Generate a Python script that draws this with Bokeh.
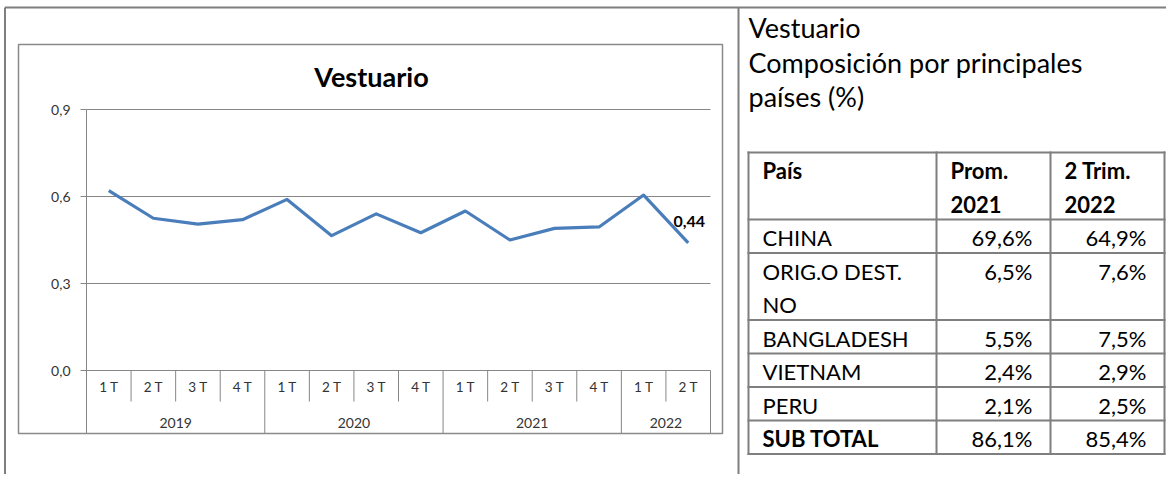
import math
from bokeh.plotting import figure
from bokeh.models import Range1d
from bokeh.core.properties import value
from bokeh.embed import file_html
from bokeh.resources import INLINE

# ---------------- data ----------------
years = ["2019", "2020", "2021", "2022"]
quarters_per_year = [4, 4, 4, 2]
quarter_labels = ["1 T", "2 T", "3 T", "4 T"]
share = [0.62, 0.525, 0.505, 0.52, 0.59, 0.465, 0.54, 0.475,
         0.55, 0.45, 0.49, 0.495, 0.605, 0.44]
y_ticks = [0.0, 0.3, 0.6, 0.9]
chart_title = "Vestuario"

block_title = ["Vestuario", "Composición por principales", "países (%)"]
headers = [["País"], ["Prom.", "2021"], ["2 Trim.", "2022"]]
countries = [["CHINA"], ["ORIG.O DEST.", "NO"], ["BANGLADESH"], ["VIETNAM"],
             ["PERU"], ["SUB TOTAL"]]
prom_2021 = [69.6, 6.5, 5.5, 2.4, 2.1, 86.1]
trim2_2022 = [64.9, 7.6, 7.5, 2.9, 2.5, 85.4]

# ---------------- styles / layout ----------------
FONT = value("Lato")
GRID = "#868686"
FRAME = "#7f7f7f"
LABEL = "#333333"
BLUE = "#4a7ebb"

W, H = 1166, 474
PLOT_LEFT, PLOT_RIGHT = 86, 710     # plot area (page px)
ZERO_Y, PX_PER_UNIT = 370, 290      # value axis placement
CHART_BOX = (18, 44, 722, 433)      # left, top, right, bottom
FRAME_LEFT, FRAME_TOP, DIVIDER_X = 4.5, 7, 738

# quarter categories
cat_q = [q for n in quarters_per_year for q in quarter_labels[:n]]
n_q = len(cat_q)
unit = (PLOT_RIGHT - PLOT_LEFT) / n_q

px_x = Range1d(0, W)
px_y = Range1d(H, 0)
q_range = Range1d(-PLOT_LEFT / unit, n_q + (W - PLOT_RIGHT) / unit)
v_range = Range1d(-(H - ZERO_Y) / PX_PER_UNIT, ZERO_Y / PX_PER_UNIT)

p = figure(width=W, height=H, x_range=px_x, y_range=px_y,
           extra_x_ranges={"q": q_range}, extra_y_ranges={"v": v_range},
           x_axis_location=None, y_axis_location=None, min_border=0,
           output_backend="svg", toolbar_location=None)
p.grid.visible = False
p.outline_line_color = None
p.background_fill_color = "white"
p.border_fill_color = "white"

C = dict(x_range_name="q", y_range_name="v")

# ---- document frame ----
p.segment(x0=[FRAME_LEFT], x1=[W], y0=[FRAME_TOP], y1=[FRAME_TOP], line_color=FRAME, line_width=2)
p.segment(x0=[FRAME_LEFT, DIVIDER_X], x1=[FRAME_LEFT, DIVIDER_X], y0=[FRAME_TOP, FRAME_TOP],
          y1=[H, H], line_color=FRAME, line_width=2)

# ---- chart box ----
bl, bt, br, bb = CHART_BOX
p.quad(left=[bl], right=[br], top=[bt], bottom=[bb], fill_color=None,
       line_color="#8a8a8a", line_width=1.5)

p.text(x=[(bl + br) / 2 + 1], y=[76], text=[chart_title], text_align="center",
       text_baseline="middle", text_font=FONT, text_font_size="27px",
       text_font_style="bold", text_color="black")

# ---- value axis & grid ----
y_bottom = (ZERO_Y - bb) / PX_PER_UNIT
top_tick = max(y_ticks)
p.segment(x0=[0] * len(y_ticks), x1=[n_q] * len(y_ticks), y0=y_ticks, y1=y_ticks,
          line_color=GRID, line_width=1, **C)
p.segment(x0=[0], x1=[0], y0=[y_bottom], y1=[top_tick], line_color=GRID, line_width=1, **C)
p.ray(x=[0] * len(y_ticks), y=y_ticks, length=6, length_units="screen", angle=math.pi,
      line_color=GRID, line_width=1, **C)
p.text(x=[0] * len(y_ticks), y=y_ticks, text=[f"{t:.1f}".replace(".", ",") for t in y_ticks],
       x_offset=-16, text_align="right", text_baseline="middle", text_font=FONT,
       text_font_size="14px", text_color=LABEL, **C)

# ---- category axis table ----
QUARTER_ROW_BOTTOM = -0.107
q_sep, y_sep, y_centers = [], [], []
start = 0
for n in quarters_per_year:
    q_sep += [start + k for k in range(1, n)]
    y_sep.append(start + n)
    y_centers.append(start + n / 2)
    start += n
p.segment(x0=q_sep, x1=q_sep, y0=[0] * len(q_sep), y1=[QUARTER_ROW_BOTTOM] * len(q_sep),
          line_color=GRID, line_width=1, **C)
p.segment(x0=y_sep, x1=y_sep, y0=[0] * len(y_sep), y1=[y_bottom] * len(y_sep),
          line_color=GRID, line_width=1, **C)

xq = [i + 0.5 for i in range(n_q)]
p.text(x=xq, y=[-0.058] * n_q, text=cat_q, text_align="center", text_baseline="middle",
       text_font=FONT, text_font_size="13.5px", text_color=LABEL, **C)
p.text(x=y_centers, y=[-0.182] * len(years), text=years, text_align="center",
       text_baseline="middle", text_font=FONT, text_font_size="14px", text_color=LABEL, **C)

# ---- series ----
p.line(x=xq, y=share, line_color=BLUE, line_width=3.2, line_join="round", **C)
p.text(x=[xq[-1]], y=[share[-1]], text=[f"{share[-1]:.2f}".replace(".", ",")],
       x_offset=1, y_offset=-21, text_align="center", text_baseline="middle",
       text_font=FONT, text_font_size="16px", text_font_style="bold",
       text_color="black", **C)

# ---------------- table ----------------
p.text(x=[748] * len(block_title), y=[27 + 34.5 * k for k in range(len(block_title))],
       text=block_title, text_align="left", text_baseline="middle",
       text_font=FONT, text_font_size="27px", text_color="black")

TABLE_TOP = 152
LINE_H = 33.5
FIRST_MID = 18
col_edges = [748, 936, 1050, 1164]
PAD_L, PAD_R = 14, 18

rows_lines = [max(len(h) for h in headers)] + [len(c) for c in countries]
row_tops = [TABLE_TOP]
for n in rows_lines:
    row_tops.append(row_tops[-1] + n * LINE_H)

p.segment(x0=[col_edges[0]] * len(row_tops), x1=[col_edges[-1]] * len(row_tops),
          y0=row_tops, y1=row_tops, line_color=FRAME, line_width=2, line_cap="square")
p.segment(x0=col_edges, x1=col_edges, y0=[row_tops[0]] * len(col_edges),
          y1=[row_tops[-1]] * len(col_edges), line_color=FRAME, line_width=2, line_cap="square")

bx, by, btxt = [], [], []
nx, ny, ntxt = [], [], []
rx, ry, rtxt = [], [], []
for c, h in enumerate(headers):
    for j, line in enumerate(h):
        bx.append(col_edges[c] + PAD_L)
        by.append(row_tops[0] + FIRST_MID + j * LINE_H)
        btxt.append(line)
for i, (name, a, b) in enumerate(zip(countries, prom_2021, trim2_2022)):
    top = row_tops[i + 1]
    bold = name[0] == "SUB TOTAL"
    for j, line in enumerate(name):
        (bx if bold else nx).append(col_edges[0] + PAD_L)
        (by if bold else ny).append(top + FIRST_MID + j * LINE_H)
        (btxt if bold else ntxt).append(line)
    for c, v in ((2, a), (3, b)):
        rx.append(col_edges[c] - PAD_R)
        ry.append(top + FIRST_MID)
        rtxt.append(f"{v:.1f}".replace(".", ",") + "%")

p.text(x=bx, y=by, text=btxt, text_align="left", text_baseline="middle",
       text_font=FONT, text_font_size="22px", text_font_style="bold", text_color="black")
p.text(x=nx, y=ny, text=ntxt, text_align="left", text_baseline="middle",
       text_font=FONT, text_font_size="22px", text_color="black")
p.text(x=rx, y=ry, text=rtxt, text_align="right", text_baseline="middle",
       text_font=FONT, text_font_size="22px", text_color="black")

open("out.html", "w").write(file_html(p, INLINE))
